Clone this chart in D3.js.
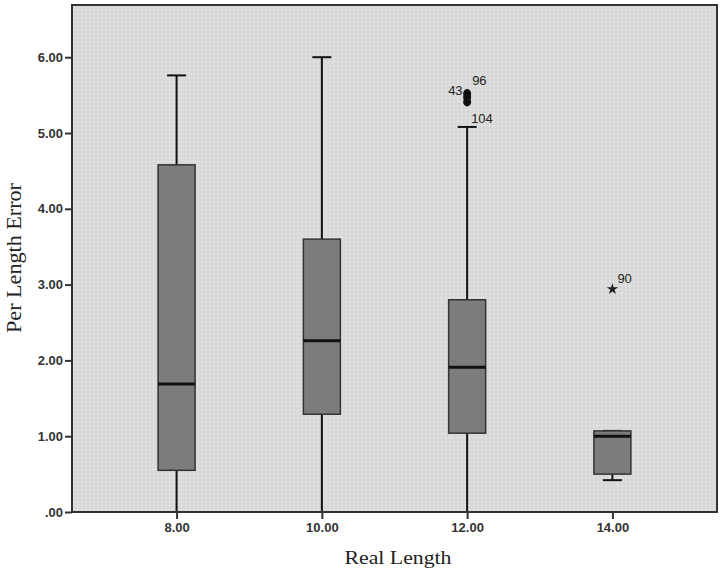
<!DOCTYPE html>
<html>
<head>
<meta charset="utf-8">
<script src="https://cdn.jsdelivr.net/npm/d3@7"></script>
<style>
  body { margin: 0; background: #fff; }
  .tick text { font-family: "Liberation Sans", Arial, sans-serif; font-size: 13px; fill: #333; font-weight: bold; }
  .title { font-family: "Liberation Serif", "Times New Roman", serif; fill: #222; }
</style>
</head>
<body>
<svg></svg>
<script>
const categories = ['8.00', '10.00', '12.00', '14.00'];
const lowWhisker = [0, 0, 0, 0.42];
const q1 = [0.55, 1.29, 1.04, 0.50];
const median = [1.69, 2.26, 1.91, 1.00];
const q3 = [4.58, 3.60, 2.80, 1.07];
const highWhisker = [5.76, 6.00, 5.08, 1.07];
const yTicks = [0, 1, 2, 3, 4, 5, 6];

// outliers (circle) and extremes (star)
const outlierCat = ['12.00', '12.00', '12.00'];
const outlierVal = [5.52, 5.47, 5.41];
const outlierLbl = ['96', '43', '104'];
const extremeCat = ['14.00'];
const extremeVal = [2.94];
const extremeLbl = ['90'];

const width = 721;
const height = 575;
const plotLeft = 72, plotRight = 717, plotTop = 5, plotBottom = 512;

const svg = d3.select('svg').attr('width', width).attr('height', height);

const defs = svg.append('defs');
const pat = defs.append('pattern')
  .attr('id', 'dots').attr('width', 4).attr('height', 4)
  .attr('patternUnits', 'userSpaceOnUse');
pat.append('rect').attr('width', 4).attr('height', 4).attr('fill', '#d9d9d9');
pat.append('rect').attr('x', 1).attr('y', 1).attr('width', 1.2).attr('height', 1.2).attr('fill', '#eeeeee');

const xScale = d3.scalePoint().domain(categories).range([plotLeft, plotRight]).padding(0.72);
const yScale = d3.scaleLinear().domain([0, (plotBottom - plotTop) / 75.8]).range([plotBottom, plotTop]);

svg.append('rect')
  .attr('x', plotLeft).attr('y', plotTop)
  .attr('width', plotRight - plotLeft).attr('height', plotBottom - plotTop)
  .attr('fill', 'url(#dots)');

const boxW = 37;
const capW = 19;

const data = categories.map((c, i) => ({
  c, lo: lowWhisker[i], q1: q1[i], med: median[i], q3: q3[i], hi: highWhisker[i]
}));

const g = svg.append('g');

// whiskers
g.selectAll('.whisker')
  .data(data)
  .enter()
  .append('line')
  .attr('x1', d => xScale(d.c)).attr('x2', d => xScale(d.c))
  .attr('y1', d => yScale(d.hi)).attr('y2', d => yScale(d.lo))
  .attr('stroke', '#111').attr('stroke-width', 2);

g.selectAll('.capTop')
  .data(data)
  .enter()
  .append('line')
  .attr('x1', d => xScale(d.c) - capW / 2).attr('x2', d => xScale(d.c) + capW / 2)
  .attr('y1', d => yScale(d.hi)).attr('y2', d => yScale(d.hi))
  .attr('stroke', '#111').attr('stroke-width', 2);

g.selectAll('.capBot')
  .data(data.filter(d => d.lo > 0))
  .enter()
  .append('line')
  .attr('x1', d => xScale(d.c) - capW / 2).attr('x2', d => xScale(d.c) + capW / 2)
  .attr('y1', d => yScale(d.lo)).attr('y2', d => yScale(d.lo))
  .attr('stroke', '#111').attr('stroke-width', 2);

g.selectAll('.box')
  .data(data)
  .enter()
  .append('rect')
  .attr('x', d => xScale(d.c) - boxW / 2)
  .attr('y', d => yScale(d.q3))
  .attr('width', boxW)
  .attr('height', d => yScale(d.q1) - yScale(d.q3))
  .attr('fill', '#7c7c7c')
  .attr('stroke', '#333').attr('stroke-width', 1.5);

g.selectAll('.median')
  .data(data)
  .enter()
  .append('line')
  .attr('x1', d => xScale(d.c) - boxW / 2).attr('x2', d => xScale(d.c) + boxW / 2)
  .attr('y1', d => yScale(d.med)).attr('y2', d => yScale(d.med))
  .attr('stroke', '#111').attr('stroke-width', 3);

// outliers
const outliers = outlierCat.map((c, i) => ({ c, v: outlierVal[i], l: outlierLbl[i] }));
g.selectAll('.outlier')
  .data(outliers)
  .enter()
  .append('ellipse')
  .attr('cx', d => xScale(d.c)).attr('cy', d => yScale(d.v))
  .attr('rx', 4).attr('ry', 4.5)
  .attr('fill', '#111');

const lblOffsets = [[5, -9], [-19, -2], [4, 21]];
g.selectAll('.outLbl')
  .data(outliers)
  .enter()
  .append('text')
  .attr('x', (d, i) => xScale(d.c) + lblOffsets[i][0])
  .attr('y', (d, i) => yScale(d.v) + lblOffsets[i][1])
  .attr('font-family', '"Liberation Sans", Arial, sans-serif')
  .attr('font-size', 13).attr('fill', '#222')
  .text(d => d.l);

const extremes = extremeCat.map((c, i) => ({ c, v: extremeVal[i], l: extremeLbl[i] }));
g.selectAll('.extreme')
  .data(extremes)
  .enter()
  .append('path')
  .attr('d', d3.symbol(d3.symbolStar, 40))
  .attr('transform', d => `translate(${xScale(d.c)},${yScale(d.v)})`)
  .attr('fill', '#222');

g.selectAll('.extLbl')
  .data(extremes)
  .enter()
  .append('text')
  .attr('x', d => xScale(d.c) + 5)
  .attr('y', d => yScale(d.v) - 6)
  .attr('font-family', '"Liberation Sans", Arial, sans-serif')
  .attr('font-size', 13).attr('fill', '#222')
  .text(d => d.l);

// frame
svg.append('rect')
  .attr('x', plotLeft).attr('y', plotTop)
  .attr('width', plotRight - plotLeft).attr('height', plotBottom - plotTop)
  .attr('fill', 'none').attr('stroke', '#333').attr('stroke-width', 2);

// axes
const yAxis = d3.axisLeft(yScale).tickValues(yTicks).tickSize(7)
  .tickFormat(d => d === 0 ? '.00' : d3.format('.2f')(d));
svg.append('g')
  .attr('transform', `translate(${plotLeft},0)`)
  .call(yAxis)
  .call(a => a.select('.domain').remove())
  .call(a => a.selectAll('.tick line').attr('stroke', '#333').attr('stroke-width', 2))
  .call(a => a.selectAll('.tick text').attr('x', -9));

const xAxis = d3.axisBottom(xScale).tickSize(7);
svg.append('g')
  .attr('transform', `translate(0,${plotBottom})`)
  .call(xAxis)
  .call(a => a.select('.domain').remove())
  .call(a => a.selectAll('.tick line').attr('stroke', '#333').attr('stroke-width', 2))
  .call(a => a.selectAll('.tick text').attr('y', 11));

svg.append('text')
  .attr('class', 'title')
  .attr('text-anchor', 'middle')
  .attr('font-size', 20)
  .attr('textLength', 150)
  .attr('lengthAdjust', 'spacingAndGlyphs')
  .attr('transform', 'translate(21,258) rotate(-90)')
  .text('Per Length Error');

svg.append('text')
  .attr('class', 'title')
  .attr('text-anchor', 'middle')
  .attr('font-size', 19)
  .attr('textLength', 107)
  .attr('lengthAdjust', 'spacingAndGlyphs')
  .attr('x', 398)
  .attr('y', 564)
  .text('Real Length');
</script>
</body>
</html>
